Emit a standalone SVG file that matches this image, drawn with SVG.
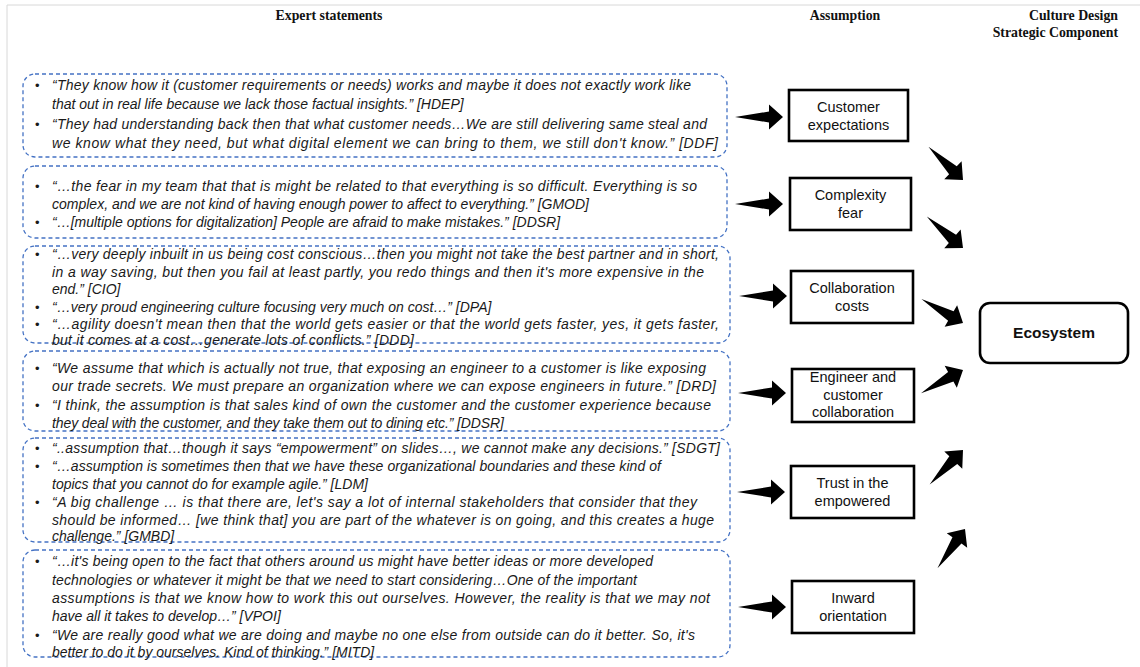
<svg xmlns="http://www.w3.org/2000/svg" width="1140" height="667" viewBox="0 0 1140 667">
  <style>
    .hdr { font-family: "Liberation Serif", "Times New Roman", serif; font-weight: bold; font-size: 13.8px; fill: #111; }
    .quote { font-family: "Liberation Sans", Arial, sans-serif; font-style: italic; font-size: 14px; fill: #1a1a1a; }
    .bullet { font-family: "Liberation Sans", Arial, sans-serif; font-size: 13px; fill: #1a1a1a; }
    .group-box { fill: none; stroke: #4472C4; stroke-width: 1.3; stroke-dasharray: 4 3; }
    .node-box { fill: #fff; stroke: #000; stroke-width: 2.6; }
    .node-label { font-family: "Liberation Sans", Arial, sans-serif; font-size: 14.5px; fill: #111; text-anchor: middle; }
    .eco-label { font-family: "Liberation Sans", Arial, sans-serif; font-size: 15.5px; font-weight: bold; fill: #111; text-anchor: middle; }
    .frame { stroke: #d8d8d8; stroke-width: 1; fill: none; }
  </style>
  <defs>
    <!-- block arrow, tip at origin, pointing along +x -->
    <path id="block-arrow" d="M-48,0 L-14,-5.5 L-14,-12.5 L0,0 L-14,12.5 L-14,5.5 Z" fill="#000"/>
  </defs>

  <rect width="1140" height="667" fill="#fff"/>
  <path class="frame" d="M7,667 V5 H1140"/>

  <!-- column headers -->
  <g id="headers">
    <text class="hdr" x="329" y="20" text-anchor="middle">Expert statements</text>
    <text class="hdr" x="845" y="20" text-anchor="middle">Assumption</text>
    <text class="hdr" x="1118" y="20" text-anchor="end">Culture Design</text>
    <text class="hdr" x="1118" y="37" text-anchor="end">Strategic Component</text>
  </g>

  <!-- expert statement groups -->
  <g id="statements-customer">
    <rect class="group-box" x="23" y="74" width="704" height="83" rx="12"/>
    <text class="bullet" x="35" y="90">•</text>
    <text class="quote" x="52" y="90" textLength="639" lengthAdjust="spacing">“They know how it (customer requirements or needs) works and maybe it does not exactly work like</text>
    <text class="quote" x="52" y="109">that out in real life because we lack those factual insights.” [HDEP]</text>
    <text class="bullet" x="35" y="129">•</text>
    <text class="quote" x="52" y="129" textLength="655" lengthAdjust="spacing">“They had understanding back then that what customer needs…We are still delivering same steal and</text>
    <text class="quote" x="52" y="148" textLength="666" lengthAdjust="spacing">we know what they need, but what digital element we can bring to them, we still don't know.” [DDF]</text>
  </g>

  <g id="statements-complexity">
    <rect class="group-box" x="23" y="166" width="704" height="72" rx="12"/>
    <text class="bullet" x="35" y="191">•</text>
    <text class="quote" x="52" y="191" textLength="645" lengthAdjust="spacing">“…the fear in my team that that is might be related to that everything is so difficult. Everything is so</text>
    <text class="quote" x="52" y="209">complex, and we are not kind of having enough power to affect to everything.” [GMOD]</text>
    <text class="bullet" x="35" y="227">•</text>
    <text class="quote" x="52" y="227">“…[multiple options for digitalization] People are afraid to make mistakes.” [DDSR]</text>
  </g>

  <g id="statements-costs">
    <rect class="group-box" x="23" y="246" width="707" height="97" rx="12"/>
    <text class="bullet" x="35" y="259">•</text>
    <text class="quote" x="52" y="259" textLength="667" lengthAdjust="spacing">“…very deeply inbuilt in us being cost conscious…then you might not take the best partner and in short,</text>
    <text class="quote" x="52" y="277" textLength="652" lengthAdjust="spacing">in a way saving, but then you fail at least partly, you redo things and then it's more expensive in the</text>
    <text class="quote" x="52" y="294">end.” [CIO]</text>
    <text class="bullet" x="35" y="312">•</text>
    <text class="quote" x="52" y="312">“…very proud engineering culture focusing very much on cost…” [DPA]</text>
    <text class="bullet" x="35" y="329">•</text>
    <text class="quote" x="52" y="329" textLength="667" lengthAdjust="spacing">“…agility doesn't mean then that the world gets easier or that the world gets faster, yes, it gets faster,</text>
    <text class="quote" x="52" y="345" textLength="362" lengthAdjust="spacing">but it comes at a cost…generate lots of conflicts.” [DDD]</text>
  </g>

  <g id="statements-engineer">
    <rect class="group-box" x="23" y="351" width="707" height="80" rx="12"/>
    <text class="bullet" x="35" y="373">•</text>
    <text class="quote" x="52" y="373" textLength="654" lengthAdjust="spacing">“We assume that which is actually not true, that exposing an engineer to a customer is like exposing</text>
    <text class="quote" x="52" y="391" textLength="664" lengthAdjust="spacing">our trade secrets. We must prepare an organization where we can expose engineers in future.” [DRD]</text>
    <text class="bullet" x="35" y="410">•</text>
    <text class="quote" x="52" y="410" textLength="659" lengthAdjust="spacing">“I think, the assumption is that sales kind of own the customer and the customer experience because</text>
    <text class="quote" x="52" y="428" textLength="452" lengthAdjust="spacing">they deal with the customer, and they take them out to dining etc.” [DDSR]</text>
  </g>

  <g id="statements-trust">
    <rect class="group-box" x="23" y="438" width="707" height="104" rx="12"/>
    <text class="bullet" x="35" y="453">•</text>
    <text class="quote" x="52" y="453" textLength="668" lengthAdjust="spacing">“..assumption that…though it says “empowerment” on slides…, we cannot make any decisions.” [SDGT]</text>
    <text class="bullet" x="35" y="471">•</text>
    <text class="quote" x="52" y="471" textLength="609" lengthAdjust="spacing">“…assumption is sometimes then that we have these organizational boundaries and these kind of</text>
    <text class="quote" x="52" y="489">topics that you cannot do for example agile.” [LDM]</text>
    <text class="bullet" x="35" y="507">•</text>
    <text class="quote" x="52" y="507" textLength="645" lengthAdjust="spacing">“A big challenge … is that there are, let's say a lot of internal stakeholders that consider that they</text>
    <text class="quote" x="52" y="525" textLength="662" lengthAdjust="spacing">should be informed… [we think that] you are part of the whatever is on going, and this creates a huge</text>
    <text class="quote" x="52" y="541">challenge.” [GMBD]</text>
  </g>

  <g id="statements-inward">
    <rect class="group-box" x="23" y="550" width="707" height="107" rx="12"/>
    <text class="bullet" x="35" y="566">•</text>
    <text class="quote" x="52" y="566" textLength="601" lengthAdjust="spacing">“…it's being open to the fact that others around us might have better ideas or more developed</text>
    <text class="quote" x="52" y="585" textLength="585" lengthAdjust="spacing">technologies or whatever it might be that we need to start considering…One of the important</text>
    <text class="quote" x="52" y="603" textLength="658" lengthAdjust="spacing">assumptions is that we know how to work this out ourselves. However, the reality is that we may not</text>
    <text class="quote" x="52" y="621">have all it takes to develop…” [VPOI]</text>
    <text class="bullet" x="35" y="640">•</text>
    <text class="quote" x="52" y="640" textLength="643" lengthAdjust="spacing">“We are really good what we are doing and maybe no one else from outside can do it better. So, it's</text>
    <text class="quote" x="52" y="657">better to do it by ourselves. Kind of thinking.” [MITD]</text>
  </g>

  <!-- assumption nodes -->
  <g id="node-customer-expectations">
    <rect class="node-box" x="789" y="90" width="119" height="51"/>
    <text class="node-label" x="848.5" y="112">Customer</text>
    <text class="node-label" x="848.5" y="130">expectations</text>
  </g>
  <g id="node-complexity-fear">
    <rect class="node-box" x="790" y="178" width="121" height="52"/>
    <text class="node-label" x="850.5" y="200">Complexity</text>
    <text class="node-label" x="850.5" y="218">fear</text>
  </g>
  <g id="node-collaboration-costs">
    <rect class="node-box" x="791" y="271" width="122" height="52"/>
    <text class="node-label" x="852" y="293">Collaboration</text>
    <text class="node-label" x="852" y="311">costs</text>
  </g>
  <g id="node-engineer-customer">
    <rect class="node-box" x="792" y="369" width="122" height="53"/>
    <text class="node-label" x="853" y="382">Engineer and</text>
    <text class="node-label" x="853" y="399.5">customer</text>
    <text class="node-label" x="853" y="417">collaboration</text>
  </g>
  <g id="node-trust-empowered">
    <rect class="node-box" x="791" y="466" width="123" height="52"/>
    <text class="node-label" x="852.5" y="488">Trust in the</text>
    <text class="node-label" x="852.5" y="506">empowered</text>
  </g>
  <g id="node-inward-orientation">
    <rect class="node-box" x="792" y="581" width="122" height="52"/>
    <text class="node-label" x="853" y="603">Inward</text>
    <text class="node-label" x="853" y="621">orientation</text>
  </g>

  <!-- strategic component -->
  <g id="node-ecosystem">
    <rect class="node-box" x="980" y="303" width="148" height="60" rx="10"/>
    <text class="eco-label" x="1054" y="338">Ecosystem</text>
  </g>

  <!-- connectors -->
  <g id="connectors">
    <use href="#block-arrow" transform="translate(783,117)"/>
    <use href="#block-arrow" transform="translate(783,204)"/>
    <use href="#block-arrow" transform="translate(787,296)"/>
    <use href="#block-arrow" transform="translate(786,393)"/>
    <use href="#block-arrow" transform="translate(785,492)"/>
    <use href="#block-arrow" transform="translate(786,607)"/>

    <use href="#block-arrow" transform="translate(963,180) rotate(44)"/>
    <use href="#block-arrow" transform="translate(963,248) rotate(41)"/>
    <use href="#block-arrow" transform="translate(963,323) rotate(30)"/>
    <use href="#block-arrow" transform="translate(963,370) rotate(-29)"/>
    <use href="#block-arrow" transform="translate(963,450) rotate(-46)"/>
    <use href="#block-arrow" transform="translate(965,529) rotate(-55)"/>
  </g>
</svg>
